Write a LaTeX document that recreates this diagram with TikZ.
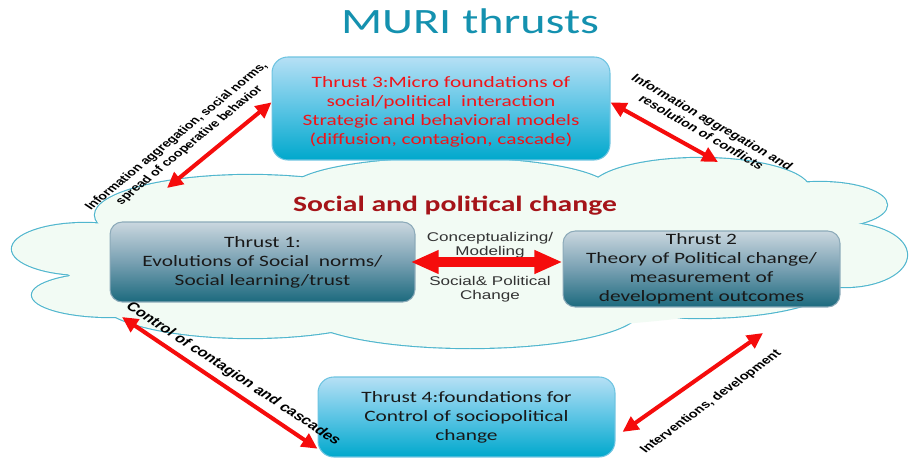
\documentclass[tikz,border=0pt]{standalone}
\usepackage{fontspec}
\usetikzlibrary{arrows.meta}
\newfontfamily\calib[FakeStretch=1.35]{Carlito}
\newfontfamily\arialw[FakeStretch=1.35]{Liberation Sans}
\newfontfamily\arialn{Liberation Sans}
\definecolor{titleblue}{RGB}{20,145,175}
\definecolor{darkred}{RGB}{165,20,25}
\definecolor{cloudfill}{RGB}{242,251,244}
\definecolor{cloudline}{RGB}{80,182,206}
\definecolor{arrowred}{RGB}{245,12,12}
\definecolor{bluetop}{RGB}{182,224,245}
\definecolor{bluemid}{RGB}{90,196,228}
\definecolor{bluebot}{RGB}{0,168,204}
\definecolor{blueedge}{RGB}{110,196,225}
\definecolor{graytop}{RGB}{202,215,223}
\definecolor{graymid}{RGB}{120,160,178}
\definecolor{graybot}{RGB}{28,106,126}
\definecolor{grayedge}{RGB}{140,170,185}
\definecolor{t3red}{RGB}{240,20,25}
\begin{document}
\begin{tikzpicture}[x=0.02cm,y=0.02cm,
  cloudedge/.style={draw=cloudline,line width=1.3pt},
  cloudbody/.style={fill=cloudfill,draw=none},
  boxtext/.style={align=center,inner sep=0pt,font=\calib\fontsize{9}{10.8}\selectfont},
  bluebox/.style={rounded corners=9pt,top color=bluetop,bottom color=bluebot,middle color=bluemid,
    draw=blueedge,line width=0.6pt,boxtext},
  graybox/.style={rounded corners=7pt,top color=graytop,bottom color=graybot,middle color=graymid,
    draw=grayedge,line width=0.6pt,boxtext,text=black!90},
  redarrow/.style={draw=arrowred,line width=2.3pt,{Triangle[length=9pt,width=8.5pt]}-{Triangle[length=9pt,width=8.5pt]}},
  bigarrow/.style={draw=arrowred,line width=5.5pt,{Triangle[length=16pt,width=12.5pt]}-{Triangle[length=16pt,width=12.5pt]}},
  midlbl/.style={align=center,inner sep=0pt,text=black!80,font=\arialw\fontsize{7.2}{7.8}\selectfont},
  diaglbl/.style={align=center,inner sep=0pt,text=black,transform shape}
]
\fill[white] (0,0) rectangle (909,-459);
\useasboundingbox (0,0) rectangle (909,-459);

% cloud
\foreach \cx/\cy/\rx/\ry in {85/249/73/26, 110/295/78/22, 250/300/150/38, 470/310/170/38,
  700/280/140/38, 845/255/62/32, 820/205/67/23, 700/190/110/32, 450/190/160/32, 250/215/155/40}
  \draw[cloudedge] (\cx,-\cy) ellipse [x radius=\rx*0.02cm, y radius=\ry*0.02cm];
\foreach \cx/\cy/\rx/\ry in {85/249/73/26, 110/295/78/22, 250/300/150/38, 470/310/170/38,
  700/280/140/38, 845/255/62/32, 820/205/67/23, 700/190/110/32, 450/190/160/32, 250/215/155/40, 460/260/400/70}
  \fill[cloudbody] (\cx,-\cy) ellipse [x radius=\rx*0.02cm, y radius=\ry*0.02cm];

% title and cloud label
\node[text=titleblue,font=\calib\fontsize{20.3}{24}\selectfont,inner sep=0pt] (title) at (470,-21) {MURI thrusts};
\node[text=darkred,font=\calib\bfseries\fontsize{12.5}{15}\selectfont,inner sep=0pt] (spc) at (455,-206) {Social and political change};

% boxes
\node[bluebox,minimum width=6.76cm,minimum height=2.06cm] (t3) at (441,-108.5) {};
\node[boxtext,text=t3red] (t3txt) at (441,-112) 
  {Thrust 3:Micro foundations of\\social/political~ interaction\\Strategic and behavioral models\\(diffusion, contagion, cascade)};
\node[graybox,minimum width=6.1cm,minimum height=1.6cm] (t1) at (262.5,-262)
  {Thrust 1:\\Evolutions of Social~ norms/\\Social learning/trust};
\node[graybox,minimum width=5.54cm,minimum height=1.52cm] (t2) at (701.5,-269)
  {Thrust 2\\Theory of Political change/\\measurement of\\development outcomes};
\node[bluebox,text=black!90,minimum width=5.94cm,minimum height=1.6cm] (t4) at (466.5,-417)
  {Thrust 4:foundations for\\Control of sociopolitical\\change};

% middle labels and arrow
\node[midlbl] (cm) at (490,-245.5) {Conceptualizing/\\Modeling};
\node[midlbl] (spch) at (490,-289) {Social\& Political\\Change};
\draw[bigarrow,shorten <=-2.8pt] (t1.east) -- (t1.east -| t2.west);

% diagonal arrows
\coordinate (c1) at (167,-188);
\coordinate (c2) at (718,-162);
\coordinate (c3) at (122,-317);
\coordinate (c4) at (763,-333);
\draw[redarrow] (c1) -- ([yshift=3.5pt]t3.west);
\draw[redarrow] ([yshift=3.5pt]t3.east) -- (c2);
\draw[redarrow] (c3) -- ([yshift=5pt]t4.south west);
\draw[redarrow] ([xshift=4pt,yshift=-8.5pt]t4.east) -- (c4);

% diagonal labels (stretched horizontally like the reference)
\begin{scope}[xscale=1.35]
\node[diaglbl,rotate=47.8,font=\arialn\bfseries\fontsize{6}{7.4}\selectfont] (l1) at (135.6,-141)
  {Information aggregation, social norms,\\spread of cooperative behavior};
\node[diaglbl,rotate=-37.8,font=\arialn\bfseries\fontsize{6.2}{7.4}\selectfont] (l2) at (523.7,-127)
  {Information aggregation and\\resolution of conflicts};
\node[diaglbl,rotate=-41.5,font=\arialn\bfseries\fontsize{7.1}{8.5}\selectfont] (l3) at (172.6,-374)
  {Control of contagion and cascades};
\node[diaglbl,rotate=44.6,font=\arialn\bfseries\fontsize{6.2}{7.4}\selectfont] (l4) at (526.7,-402)
  {Interventions, development};
\end{scope}
\end{tikzpicture}
\end{document}
